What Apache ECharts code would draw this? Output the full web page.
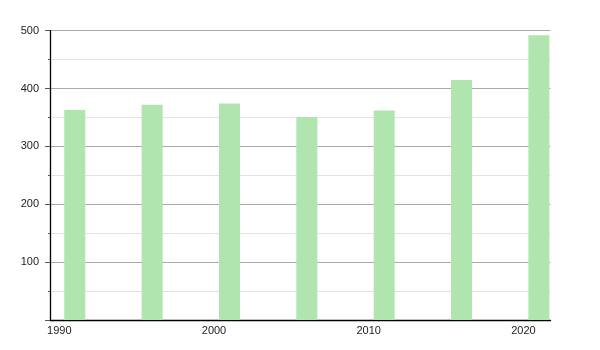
<!DOCTYPE html>
<html>
<head>
<meta charset="utf-8">
<script src="https://cdn.jsdelivr.net/npm/echarts@6/dist/echarts.min.js"></script>
<style>html,body{margin:0;padding:0;background:#fff}#c{width:600px;height:350px}</style>
</head>
<body>
<div id="c"></div>
<script>
const years = [1991, 1996, 2001, 2006, 2011, 2016, 2021];
const values = [363, 372, 374, 351, 362, 415, 492];
const xTickLabels = [1990, 2000, 2010, 2020];
const yTickLabels = [100, 200, 300, 400, 500];
const yMinorTicks = [50, 150, 250, 350, 450];

const chart = echarts.init(document.getElementById('c'), null, {renderer: 'canvas'});
const font = '"Liberation Sans", Arial, sans-serif';
chart.setOption({
  animation: false,
  grid: {left: 50, right: 49.5, top: 30.7, bottom: 30, containLabel: false},
  xAxis: {
    type: 'value',
    min: 1989.4,
    max: 2021.75,
    splitLine: {show: false},
    axisLine: {show: true, onZero: false, lineStyle: {color: '#000', width: 1.3}},
    axisTick: {show: false},
    axisLabel: {
      customValues: xTickLabels,
      color: '#222', fontSize: 11, fontFamily: font, margin: 5,
      formatter: v => String(v)
    }
  },
  yAxis: [{
    type: 'value',
    min: 0, max: 500, interval: 100,
    axisLine: {show: true, lineStyle: {color: '#000', width: 1.3}},
    axisTick: {show: true, length: 5, lineStyle: {color: '#555'}},
    minorTick: {show: true, splitNumber: 2, length: 2, lineStyle: {color: '#555'}},
    splitLine: {show: true, lineStyle: {color: '#aaa', width: 1}},
    minorSplitLine: {show: true, lineStyle: {color: '#e2e2e2', width: 1}},
    axisLabel: {
      color: '#222', fontSize: 11, fontFamily: font, margin: 11,
      formatter: v => (yTickLabels.indexOf(v) >= 0 ? String(v) : '')
    }
  }],
  series: [{
    type: 'bar',
    data: years.map((y, i) => [y, values[i]]),
    barWidth: 21,
    itemStyle: {color: '#b1e5b0'},
    z: 3
  }]
});
</script>
</body>
</html>
